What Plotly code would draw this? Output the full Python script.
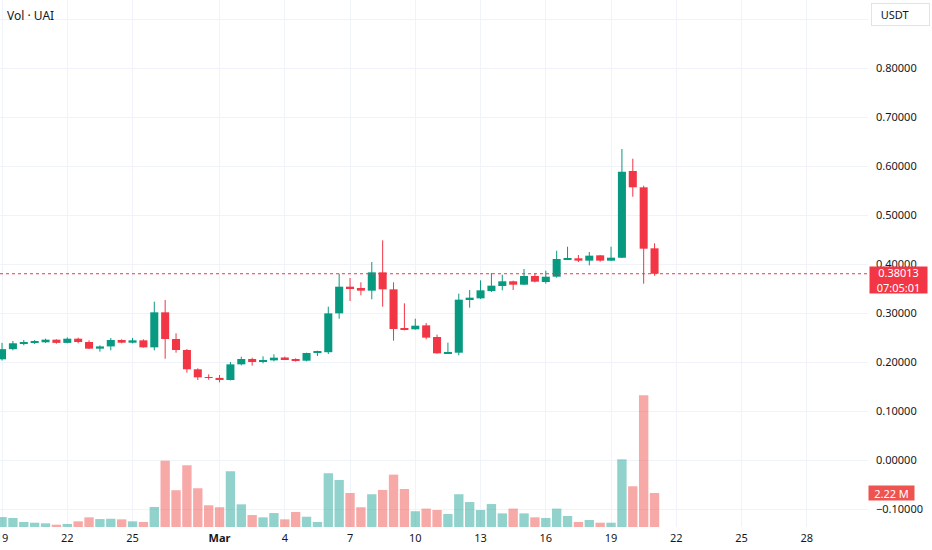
import pandas as pd
import plotly.graph_objects as go

# UAI / USDT, 12h candles
times = pd.date_range("2025-02-19 00:00", periods=61, freq="12h")

opens = [0.2055, 0.2262, 0.2382, 0.2396, 0.2402, 0.2456, 0.2390, 0.2476, 0.2408, 0.2272,
         0.2318, 0.2449, 0.2394, 0.2442, 0.2299, 0.3014, 0.2469, 0.2245, 0.1851, 0.1687,
         0.1676, 0.1633, 0.1952, 0.2061, 0.2000, 0.2034, 0.2092, 0.2061, 0.2027, 0.2190,
         0.2200, 0.2993, 0.3537, 0.3510, 0.3456, 0.3830, 0.3483, 0.2694, 0.2667, 0.2748,
         0.2510, 0.2177, 0.2190, 0.3265, 0.3299, 0.3449, 0.3551, 0.3647, 0.3578, 0.3755,
         0.3633, 0.3741, 0.4088, 0.4116, 0.4068, 0.4177, 0.4068, 0.4129, 0.5898, 0.5565,
         0.4320]
highs = [0.2390, 0.2429, 0.2449, 0.2449, 0.2476, 0.2463, 0.2503, 0.2497, 0.2442, 0.2340,
         0.2490, 0.2463, 0.2490, 0.2463, 0.3231, 0.3265, 0.2585, 0.2265, 0.1871, 0.1748,
         0.1735, 0.2000, 0.2109, 0.2088, 0.2116, 0.2157, 0.2109, 0.2075, 0.2190, 0.2231,
         0.3129, 0.3802, 0.3714, 0.3626, 0.4041, 0.4483, 0.3626, 0.3197, 0.2884, 0.2796,
         0.2558, 0.2395, 0.3395, 0.3469, 0.3667, 0.3816, 0.3782, 0.3660, 0.3898, 0.3816,
         0.3863, 0.4271, 0.4353, 0.4184, 0.4245, 0.4184, 0.4353, 0.6347, 0.6149, 0.5598,
         0.4422]
lows = [0.2030, 0.2239, 0.2340, 0.2367, 0.2388, 0.2374, 0.2381, 0.2381, 0.2265, 0.2211,
        0.2238, 0.2381, 0.2381, 0.2293, 0.2238, 0.2067, 0.2190, 0.1782, 0.1633, 0.1639,
        0.1585, 0.1625, 0.1932, 0.1925, 0.1973, 0.2014, 0.2041, 0.2007, 0.2014, 0.2122,
        0.2163, 0.2884, 0.3245, 0.3361, 0.3279, 0.3129, 0.2435, 0.2646, 0.2660, 0.2463,
        0.2170, 0.2163, 0.2136, 0.3109, 0.3286, 0.3429, 0.3463, 0.3469, 0.3571, 0.3626,
        0.3599, 0.3721, 0.4082, 0.4041, 0.3973, 0.4047, 0.4061, 0.4122, 0.5373, 0.3598,
        0.3761]
closes = [0.2262, 0.2382, 0.2396, 0.2408, 0.2456, 0.2390, 0.2476, 0.2408, 0.2272, 0.2318,
          0.2449, 0.2394, 0.2442, 0.2299, 0.3014, 0.2469, 0.2245, 0.1851, 0.1687, 0.1676,
          0.1633, 0.1952, 0.2061, 0.2000, 0.2041, 0.2088, 0.2055, 0.2027, 0.2184, 0.2218,
          0.2993, 0.3537, 0.3504, 0.3456, 0.3830, 0.3483, 0.2673, 0.2660, 0.2741, 0.2497,
          0.2177, 0.2204, 0.3272, 0.3313, 0.3463, 0.3558, 0.3647, 0.3578, 0.3755, 0.3639,
          0.3741, 0.4102, 0.4116, 0.4068, 0.4170, 0.4068, 0.4129, 0.5884, 0.5565, 0.4312,
          0.38013]
# volume in millions
volumes = [0.65, 0.59, 0.33, 0.28, 0.24, 0.15, 0.20, 0.37, 0.63, 0.52,
           0.54, 0.50, 0.37, 0.33, 1.31, 4.33, 2.40, 4.03, 2.53, 1.42,
           1.29, 3.64, 1.48, 0.78, 0.63, 0.91, 0.50, 0.98, 0.67, 0.33,
           3.51, 3.07, 2.22, 1.29, 2.14, 2.42, 3.42, 2.48, 1.03, 1.20,
           1.11, 0.85, 2.14, 1.63, 1.11, 1.50, 0.89, 1.20, 0.89, 0.63,
           0.59, 1.20, 0.72, 0.33, 0.46, 0.28, 0.28, 4.42, 2.66, 8.60,
           2.22]

date_ticks = ["2025-02-19", "2025-02-22", "2025-02-25", "2025-03-01", "2025-03-04",
              "2025-03-07", "2025-03-10", "2025-03-13", "2025-03-16", "2025-03-19",
              "2025-03-22", "2025-03-25", "2025-03-28"]
date_labels = ["19", "22", "25", "<b>Mar</b>", "4", "7", "10", "13", "16", "19",
               "22", "25", "28"]
price_ticks = [-0.1, 0.0, 0.1, 0.2, 0.3, 0.4, 0.5, 0.6, 0.7, 0.8, 0.9]
price_labels = [("%.5f" % v).replace("-", "\u2212") for v in price_ticks[:-1]] + [""]

UP = "#089981"
DOWN = "#f23645"
VOL_UP = "rgba(38,166,154,0.5)"
VOL_DOWN = "rgba(239,83,80,0.5)"
FONT = "Noto Sans"
TEXT = "#131722"
GRID = "#f0f3fa"

half_day_ms = 12 * 3600 * 1000
is_up = [c >= o for o, c in zip(opens, closes)]

fig = go.Figure()

# volume (own overlay scale at the bottom)
fig.add_trace(go.Bar(
    x=times, y=volumes, yaxis="y2",
    width=half_day_ms * 0.86,
    marker=dict(color=[VOL_UP if u else VOL_DOWN for u in is_up], line_width=0),
    hoverinfo="skip",
))

# wicks
for flag, col in [(True, UP), (False, DOWN)]:
    wx, wy = [], []
    for t, h, l, u in zip(times, highs, lows, is_up):
        if u == flag:
            wx += [t, t, None]
            wy += [l, h, None]
    fig.add_trace(go.Scatter(x=wx, y=wy, mode="lines",
                             line=dict(color=col, width=1), hoverinfo="skip"))

# bodies
fig.add_trace(go.Bar(
    x=times,
    y=[max(abs(c - o), 0.0015) for o, c in zip(opens, closes)],
    base=[min(o, c) for o, c in zip(opens, closes)],
    width=half_day_ms * 0.74,
    marker=dict(color=[UP if u else DOWN for u in is_up], line_width=0),
    hoverinfo="skip",
))

last = closes[-1]

# last price line
fig.add_shape(type="line", xref="paper", x0=0, x1=1, yref="y", y0=last, y1=last,
              line=dict(color=DOWN, width=1, dash="dot"))

fig.add_annotation(xref="paper", x=1, xanchor="left", xshift=1,
                   yref="y", y=last, yanchor="top", yshift=8,
                   text="%.5f<br>07:05:01" % last, showarrow=False,
                   bgcolor=DOWN, borderpad=0, width=57, height=26,
                   font=dict(family=FONT, size=11, color="white"))

fig.add_annotation(xref="paper", x=1, xanchor="left", xshift=0,
                   yref="y2", y=volumes[-1], yanchor="middle",
                   text="%.2f M" % volumes[-1], showarrow=False,
                   bgcolor="#ef5350", borderpad=0, width=45, height=14,
                   font=dict(family=FONT, size=11, color="white"))

fig.add_annotation(xref="paper", x=1, xanchor="left", xshift=3,
                   yref="paper", y=1, yanchor="top", yshift=-3,
                   text="&nbsp;&nbsp;USDT", showarrow=False, align="left",
                   bordercolor="#e0e3eb", borderwidth=1, borderpad=3,
                   width=51, height=15,
                   font=dict(family=FONT, size=11, color=TEXT))

fig.add_annotation(xref="paper", x=0, xanchor="left", xshift=5,
                   yref="paper", y=1, yanchor="top", yshift=-5,
                   text="Vol \u00b7 UAI", showarrow=False,
                   font=dict(family=FONT, size=12, color=TEXT))

fig.update_layout(
    width=932, height=550,
    margin=dict(l=0, r=64, t=0, b=23),
    paper_bgcolor="white", plot_bgcolor="white",
    showlegend=False, barmode="overlay", hovermode=False,
    font=dict(family=FONT, size=11, color=TEXT),
    xaxis=dict(type="date", range=["2025-02-18 21:45", "2025-03-30 19:32"],
               tickvals=date_ticks, ticktext=date_labels,
               showgrid=True, gridcolor=GRID, gridwidth=1,
               zeroline=False, showline=False, ticks="",
               automargin=False,
               ticklabelstandoff=3, ticklabeloverflow="allow",
               tickfont=dict(family=FONT, size=11, color=TEXT)),
    yaxis=dict(side="right", range=[-0.13673, 0.93878],
               tickvals=price_ticks, ticktext=price_labels,
               showgrid=True, gridcolor=GRID, gridwidth=1,
               zeroline=False, showline=False, ticks="",
               automargin=False, ticklabelstandoff=7,
               tickfont=dict(family=FONT, size=11, color=TEXT)),
    yaxis2=dict(overlaying="y", range=[0, 34.41], visible=False,
                showgrid=False, zeroline=False, automargin=False),
)

# page has a default 8px body margin; drop it so the figure sits at 0,0
fig.write_html("out.html", config={"displayModeBar": False},
               post_script="document.body.style.margin='0';")
